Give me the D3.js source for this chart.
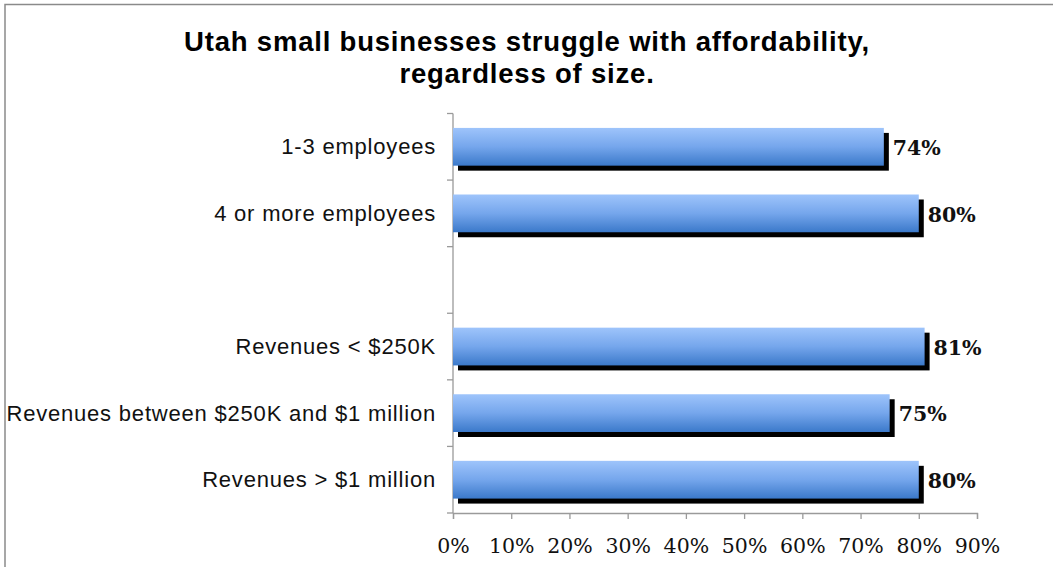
<!DOCTYPE html>
<html>
<head>
<meta charset="utf-8">
<script src="https://cdn.jsdelivr.net/npm/d3@7"></script>
<style>
  html, body { margin: 0; padding: 0; background: #fff; }
  svg { display: block; }
</style>
</head>
<body>
<svg id="chart" width="1053" height="567"></svg>
<script>
// Survey groups (blank entry separates employee-size and revenue groups)
const categories = [
  "1-3 employees",
  "4 or more employees",
  "",
  "Revenues < $250K",
  "Revenues between $250K and $1 million",
  "Revenues > $1 million"
];
const shares = [0.74, 0.80, null, 0.81, 0.75, 0.80];
const xTicks = [0, 0.1, 0.2, 0.3, 0.4, 0.5, 0.6, 0.7, 0.8, 0.9];
const titleLines = [
  "Utah small businesses struggle with affordability,",
  "regardless of size."
];

const svg = d3.select("#chart");
const W = 1053, H = 567;
const plot = { left: 453, right: 977, top: 113.5, bottom: 513 };

// outer frame
svg.append("rect")
  .attr("x", 5).attr("y", 4.5)
  .attr("width", W + 20).attr("height", H + 20)
  .attr("fill", "#fff")
  .attr("stroke", "#8a8a8a").attr("stroke-width", 1.5);

// bar gradient
const defs = svg.append("defs");
const grad = defs.append("linearGradient")
  .attr("id", "barFill").attr("x1", 0).attr("y1", 0).attr("x2", 0).attr("y2", 1);
grad.append("stop").attr("offset", "0%").attr("stop-color", "#9ec4fb");
grad.append("stop").attr("offset", "50%").attr("stop-color", "#75a6ec");
grad.append("stop").attr("offset", "100%").attr("stop-color", "#3b79ca");

const x = d3.scaleLinear().domain([0, 0.9]).range([plot.left, plot.right]);
const y = d3.scaleBand()
  .domain(categories.map((c, i) => i))
  .range([plot.top, plot.bottom])
  .paddingInner(0.433)
  .paddingOuter(0.2165);

const rows = categories.map((c, i) => ({ i, name: c, v: shares[i] }))
  .filter(d => d.v != null);

// title
svg.append("g").selectAll("text")
  .data(titleLines)
  .join("text")
  .attr("x", 527)
  .attr("y", (d, i) => 51 + i * 32)
  .attr("text-anchor", "middle")
  .attr("font-family", "Liberation Sans, Arial, sans-serif")
  .attr("font-weight", "bold")
  .attr("font-size", 27.5)
  .attr("letter-spacing", 0.8)
  .attr("fill", "#000")
  .text(d => d);

// x axis
const xAxis = svg.append("g")
  .attr("transform", `translate(0,${plot.bottom})`)
  .call(d3.axisBottom(x).tickValues(xTicks).tickFormat(d3.format(".0%")).tickSize(6).tickPadding(19));
xAxis.select(".domain").attr("stroke", "#9a9a9a").attr("stroke-width", 1.3);
xAxis.selectAll(".tick line").attr("stroke", "#9a9a9a").attr("stroke-width", 1.3);
xAxis.selectAll(".tick text")
  .attr("font-family", "DejaVu Serif, serif")
  .attr("font-size", 20.5)
  .attr("fill", "#111");

// y axis: line, boundary ticks, centered labels
const yAxis = svg.append("g");
yAxis.append("line")
  .attr("x1", plot.left).attr("x2", plot.left)
  .attr("y1", plot.top).attr("y2", plot.bottom)
  .attr("stroke", "#9a9a9a").attr("stroke-width", 1.3);
const bounds = d3.range(categories.length + 1).map(k => plot.top + k * y.step());
yAxis.selectAll("line.tk")
  .data(bounds)
  .join("line").attr("class", "tk")
  .attr("x1", plot.left - 6).attr("x2", plot.left)
  .attr("y1", d => d).attr("y2", d => d)
  .attr("stroke", "#9a9a9a").attr("stroke-width", 1.3);
yAxis.selectAll("text")
  .data(categories.map((c, i) => ({ i, c })).filter(d => d.c))
  .join("text")
  .attr("x", plot.left - 17)
  .attr("y", d => y(d.i) + y.bandwidth() / 2)
  .attr("dy", "0.35em")
  .attr("text-anchor", "end")
  .attr("font-family", "Liberation Sans, Arial, sans-serif")
  .attr("font-size", 22)
  .attr("letter-spacing", 0.8)
  .attr("fill", "#111")
  .text(d => d.c);

// bar shadows
svg.append("g").selectAll("rect")
  .data(rows)
  .join("rect")
  .attr("x", x(0) + 5)
  .attr("y", d => y(d.i) + 5)
  .attr("width", d => x(d.v) - x(0))
  .attr("height", y.bandwidth())
  .attr("fill", "#000");

// bars
svg.append("g").selectAll("rect")
  .data(rows)
  .join("rect")
  .attr("x", x(0))
  .attr("y", d => y(d.i))
  .attr("width", d => x(d.v) - x(0))
  .attr("height", y.bandwidth())
  .attr("fill", "url(#barFill)");

// value labels
svg.append("g").selectAll("text")
  .data(rows)
  .join("text")
  .attr("x", d => x(d.v) + 9)
  .attr("y", d => y(d.i) + y.bandwidth() / 2)
  .attr("dy", "0.4em")
  .attr("font-family", "DejaVu Serif, serif")
  .attr("font-weight", "bold")
  .attr("font-size", 20.5)
  .attr("fill", "#111")
  .text(d => d3.format(".0%")(d.v));
</script>
</body>
</html>
